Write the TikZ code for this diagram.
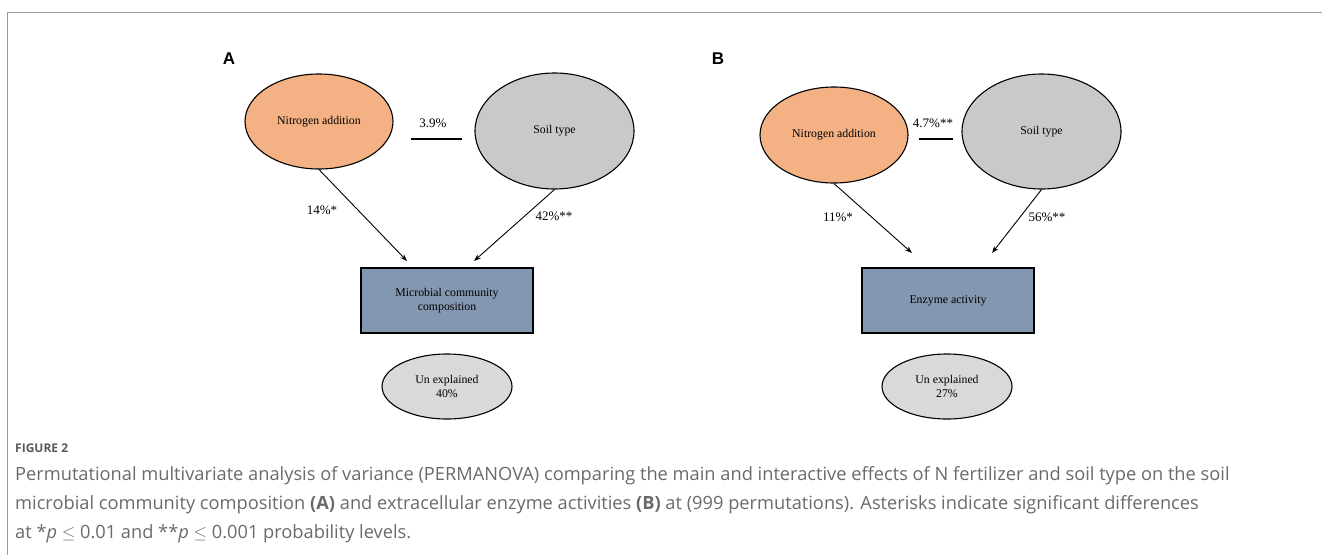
\documentclass[tikz,border=0pt]{standalone}
\usepackage{fontspec}
\setmainfont{Liberation Serif}
\newfontfamily\capfont{Open Sans}
\newfontfamily\labfont{Liberation Sans}
\usetikzlibrary{shapes.geometric,arrows.meta}
\definecolor{framegray}{HTML}{9A9A9A}
\definecolor{orangefill}{HTML}{F4B183}
\definecolor{soilfill}{HTML}{C9C9C9}
\definecolor{rectfill}{HTML}{8497B0}
\definecolor{unexfill}{HTML}{D9D9D9}
\definecolor{captext}{HTML}{6A6A6A}
\definecolor{figtext}{HTML}{595959}
\tikzset{
  oval/.style={ellipse, draw=black, line width=1.1pt, inner sep=0pt, align=center,
    font=\fontsize{11.8}{14}\selectfont},
  resbox/.style={rectangle, draw=black, line width=1.4pt, fill=rectfill, inner sep=0pt, align=center,
    font=\fontsize{11.8}{14}\selectfont},
  pct/.style={font=\fontsize{13}{15}\selectfont, inner sep=0pt},
  panel/.style={font=\labfont\bfseries\fontsize{17}{20}\selectfont, inner sep=0pt},
  arr/.style={line width=0.9pt, -{Stealth[length=7pt,width=5pt]}},
  link/.style={line width=1.1pt},
  captxt/.style={font=\capfont\fontsize{18.25}{20}\selectfont, text=captext, inner sep=0pt, anchor=west},
}
\begin{document}
\begin{tikzpicture}[x=1pt,y=-1pt]
\useasboundingbox (0,0) rectangle (1322,555);
% frame
\draw[framegray, line width=0.9pt] (1322,12) -- (7,12) -- (7,555);

% ---------- Panel A ----------
\node[panel] (labA) at (229,59) {A};
\node[oval, fill=orangefill, minimum width=148pt, minimum height=95pt] (nA) at (319,121.5) {Nitrogen addition};
\node[oval, fill=soilfill, minimum width=159pt, minimum height=116pt] (sA) at (554.5,131) {Soil type};
\node[resbox, minimum width=172pt, minimum height=65pt] (mA) at (447,300.5) {Microbial community\\composition};
\node[oval, fill=unexfill, minimum width=130pt, minimum height=65pt] (uA) at (447,386.5) {Un explained\\40\%};
\coordinate (lA1) at (411,139);
\coordinate (lA2) at (462,139);
\draw[link] (lA1) -- (lA2);
\node[pct] (pA0) at (433,123) {3.9\%};
\coordinate (eA1) at (407,261);
\coordinate (eA2) at (474,261);
\draw[arr] (nA.south) -- (eA1);
\draw[arr] (sA.south) -- (eA2);
\node[pct] (pA1) at (322,210) {14\%*};
\node[pct] (pA2) at (554,216) {42\%**};

% ---------- Panel B ----------
\node[panel] (labB) at (718,59) {B};
\node[oval, fill=orangefill, minimum width=148pt, minimum height=96pt] (nB) at (834,135) {Nitrogen addition};
\node[oval, fill=soilfill, minimum width=159pt, minimum height=115pt] (sB) at (1041.5,131.5) {Soil type};
\node[resbox, minimum width=172pt, minimum height=65pt] (mB) at (948,300.5) {Enzyme activity};
\node[oval, fill=unexfill, minimum width=130pt, minimum height=65pt] (uB) at (947,386.5) {Un explained\\27\%};
\coordinate (lB1) at (919,139);
\coordinate (lB2) at (953,139);
\draw[link] (lB1) -- (lB2);
\node[pct] (pB0) at (933,123) {4.7\%**};
\coordinate (eB1) at (912,253);
\coordinate (eB2) at (992,253);
\draw[arr] (nB.south) -- (eB1);
\draw[arr] (sB.south) -- (eB2);
\node[pct] (pB1) at (838,217) {11\%*};
\node[pct] (pB2) at (1047,217) {56\%**};

% ---------- Caption ----------
\node[captxt, font=\capfont\bfseries\fontsize{12}{14}\selectfont, text=figtext] (fig) at (15,448) {FIGURE 2};
\node[captxt] (c1) at (15,476) {Permutational multivariate analysis of variance (PERMANOVA) comparing the main and interactive effects of N fertilizer and soil type on the soil};
\node[captxt] (c2) at (15,505) {microbial community composition \textbf{(A)} and extracellular enzyme activities \textbf{(B)} at (999 permutations). Asterisks indicate significant differences};
\node[captxt] (c3) at (15,534) {at *\textit{p} $\leq$ 0.01 and **\textit{p} $\leq$ 0.001 probability levels.};
\end{tikzpicture}
\end{document}
